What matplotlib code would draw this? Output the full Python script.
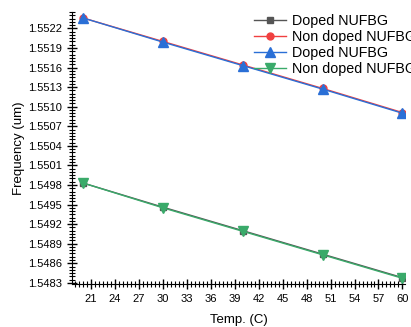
import matplotlib
matplotlib.use("Agg")
import matplotlib.pyplot as plt
from matplotlib.ticker import MultipleLocator, FormatStrFormatter

plt.rcParams['font.family'] = ['Liberation Sans', 'DejaVu Sans']

temp = [20, 30, 40, 50, 60]
doped_sq = [1.54983, 1.54946, 1.54910, 1.54874, 1.54838]
nondoped_circ = [1.55236, 1.55200, 1.55164, 1.55128, 1.55091]
doped_tri = [1.55236, 1.55199, 1.55163, 1.55127, 1.55090]
nondoped_dtri = [1.54983, 1.54945, 1.54909, 1.54873, 1.54837]

fig = plt.figure(figsize=(4.11, 3.27), dpi=100)
ax = fig.add_axes([0.175, 0.131, 0.81, 0.832])

ax.plot(temp, doped_sq, '-s', color='#555555', ms=5, lw=1, label='Doped NUFBG')
ax.plot(temp, nondoped_circ, '-o', color='#f04040', ms=5, lw=1, label='Non doped NUFBG')
ax.plot(temp, doped_tri, '-^', color='#2a6fd6', ms=6.5, lw=1, label='Doped NUFBG')
ax.plot(temp, nondoped_dtri, '-v', color='#3aaa6a', ms=6.5, lw=1, label='Non doped NUFBG')

ax.set_xlim(18.6, 60.3)
ax.set_ylim(1.54828, 1.55245)
ax.spines['top'].set_visible(False)
ax.spines['right'].set_visible(False)

ax.xaxis.set_major_locator(MultipleLocator(3))
ax.xaxis.set_minor_locator(MultipleLocator(0.5))
ax.yaxis.set_major_locator(MultipleLocator(0.0003))
ax.yaxis.set_minor_locator(MultipleLocator(0.00005))
ax.set_xticks([21, 24, 27, 30, 33, 36, 39, 42, 45, 48, 51, 54, 57, 60])
ax.yaxis.set_major_formatter(FormatStrFormatter('%.4f'))
ax.tick_params(which='major', direction='inout', length=7, width=1, labelsize=8)
ax.tick_params(which='minor', direction='inout', length=4, width=0.8)

ax.set_xlabel('Temp. (C)', fontsize=9.5, labelpad=7)
ax.set_ylabel('Frequency (um)', fontsize=9.5, labelpad=2)

fig.legend(loc='upper left', bbox_to_anchor=(0.605, 0.975), frameon=False,
           fontsize=10.3, handlelength=2.2, handletextpad=0.4, labelspacing=0.15,
           borderaxespad=0)

fig.savefig('out.png', dpi=100)
